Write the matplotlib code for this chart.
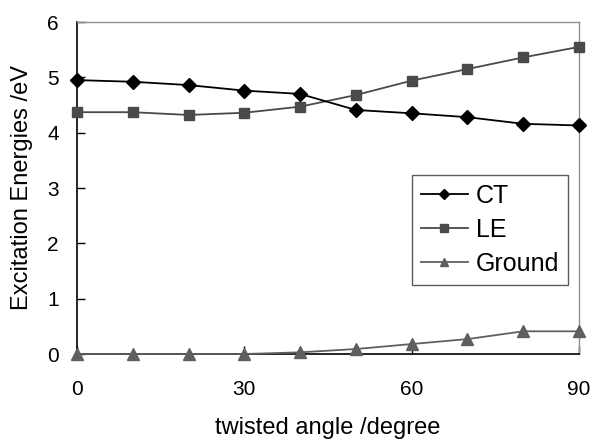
import matplotlib
matplotlib.use('Agg')
import matplotlib.pyplot as plt

# twisted angle (degree) and energies (eV)
angle = [0, 10, 20, 30, 40, 50, 60, 70, 80, 90]
ct = [4.95, 4.92, 4.86, 4.76, 4.70, 4.41, 4.35, 4.28, 4.16, 4.13]
le = [4.37, 4.37, 4.32, 4.36, 4.47, 4.68, 4.94, 5.15, 5.36, 5.55]
ground = [0.0, 0.0, 0.0, 0.0, 0.03, 0.09, 0.18, 0.27, 0.41, 0.41]

plt.rcParams['font.family'] = ['Liberation Sans', 'DejaVu Sans']

fig = plt.figure(figsize=(5.93, 4.41), dpi=100)
# axes box: x 77..579 px, y 22..354 px
ax = fig.add_axes([77 / 593, 1 - 354 / 441, 502 / 593, 332 / 441])

ax.plot(angle, ct, color='black', lw=1.3, marker='D', ms=7,
        label='CT', clip_on=False, zorder=4)
ax.plot(angle, le, color='#4a4a4a', lw=1.3, marker='s', ms=7,
        label='LE', clip_on=False, zorder=3)
ax.plot(angle, ground, color='#5f5f5f', lw=1.3, marker='^', ms=8,
        label='Ground', clip_on=False, zorder=3)

ax.set_xlim(0, 90)
ax.set_ylim(0, 6)
ax.set_xticks([0, 30, 60, 90])
ax.set_yticks(range(7))
ax.tick_params(direction='in', length=6, width=1, labelsize=15)
ax.tick_params(axis='x', pad=19)
ax.tick_params(axis='y', pad=13)

for side in ('left', 'bottom'):
    ax.spines[side].set_color('black')
    ax.spines[side].set_linewidth(1.2)
for side in ('top', 'right'):
    ax.spines[side].set_color('#909090')
    ax.spines[side].set_linewidth(1.0)

ax.set_xlabel('twisted angle /degree', fontsize=17, labelpad=13)
ax.set_ylabel('Excitation Energies /eV', fontsize=17, labelpad=10)

leg = ax.legend(loc='upper left', bbox_to_anchor=(0.667, 0.538),
                fontsize=18, frameon=True, fancybox=False, markerscale=0.8,
                handlelength=1.9, handletextpad=0.3, labelspacing=0.4,
                borderpad=0.35, borderaxespad=0)
leg.get_frame().set_edgecolor('#333333')
leg.get_frame().set_linewidth(1.0)

fig.savefig('out.png', dpi=100)
